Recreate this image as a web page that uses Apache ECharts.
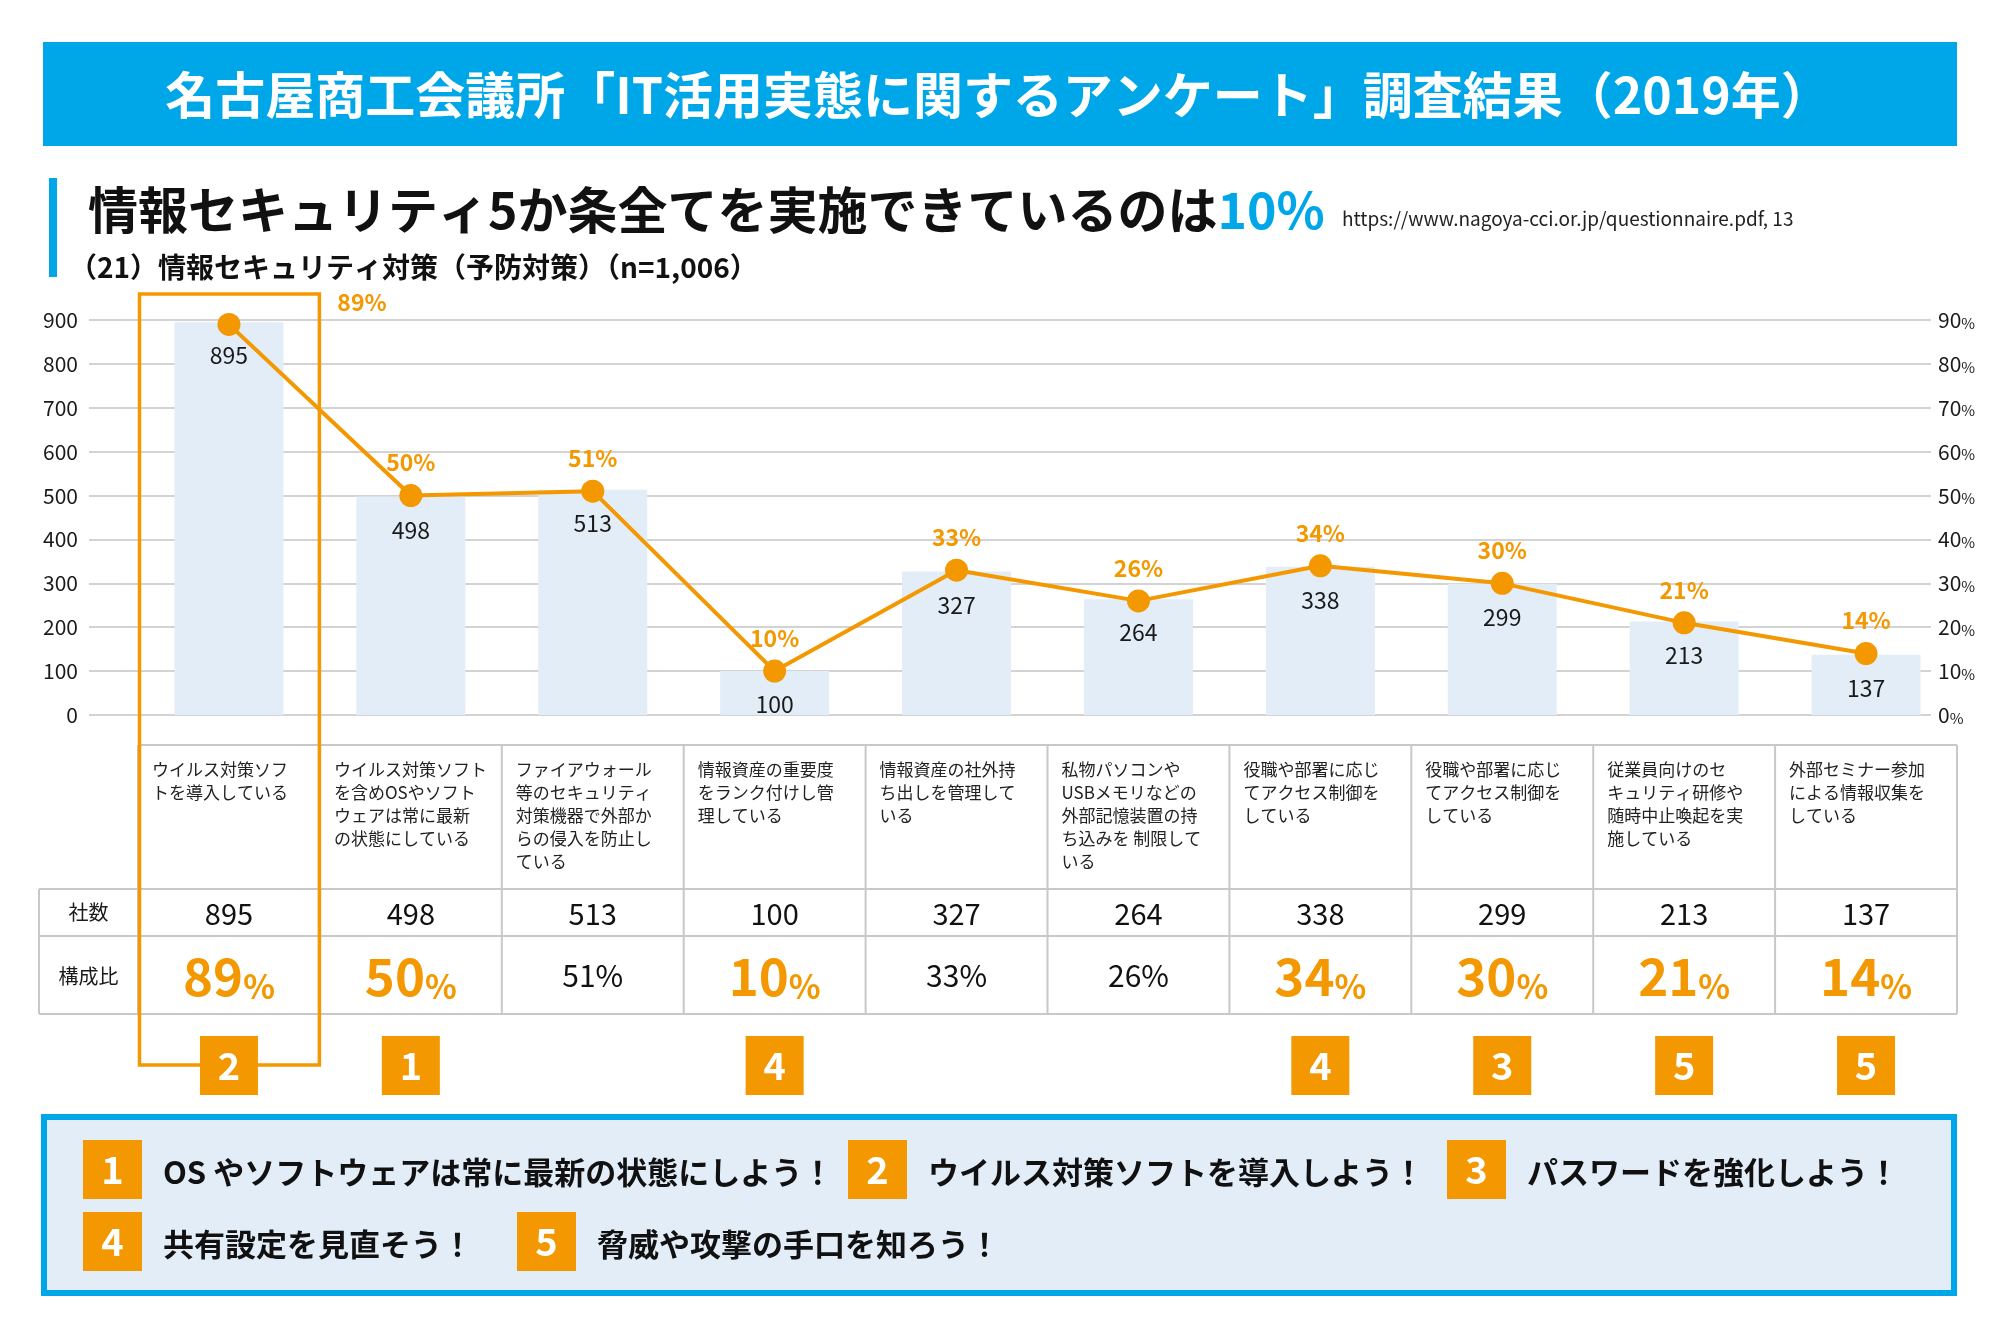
<!DOCTYPE html>
<html>
<head>
<meta charset="utf-8">
<script src="https://cdn.jsdelivr.net/npm/echarts@6/dist/echarts.min.js"></script>
<style>
html,body{margin:0;padding:0;background:#fff;}
#c{width:2000px;height:1330px;}
</style>
</head>
<body>
<div id="c"></div>
<script>
// ---------------- data ----------------
const headerTitle = '名古屋商工会議所「IT活用実態に関するアンケート」調査結果（2019年）';
const subtitleMain = '情報セキュリティ5か条全てを実施できているのは';
const subtitleHighlight = '10%';
const sourceText = 'https://www.nagoya-cci.or.jp/questionnaire.pdf, 13';
const questionText = '（21）情報セキュリティ対策（予防対策）（n=1,006）';

const categories = [
  'ウイルス対策ソフ\nトを導入している',
  'ウイルス対策ソフト\nを含めOSやソフト\nウェアは常に最新\nの状態にしている',
  'ファイアウォール\n等のセキュリティ\n対策機器で外部か\nらの侵入を防止し\nている',
  '情報資産の重要度\nをランク付けし管\n理している',
  '情報資産の社外持\nち出しを管理して\nいる',
  '私物パソコンや\nUSBメモリなどの\n外部記憶装置の持\nち込みを 制限して\nいる',
  '役職や部署に応じ\nてアクセス制御を\nしている',
  '役職や部署に応じ\nてアクセス制御を\nしている',
  '従業員向けのセ\nキュリティ研修や\n随時中止喚起を実\n施している',
  '外部セミナー参加\nによる情報収集を\nしている'
];
const counts = [895, 498, 513, 100, 327, 264, 338, 299, 213, 137];
const ratios = [89, 50, 51, 10, 33, 26, 34, 30, 21, 14];
const highlighted = [true, true, false, true, false, false, true, true, true, true];
const tipNumbers = [2, 1, null, 4, null, null, 4, 3, 5, 5];
const rowNames = ['社数', '構成比'];
const tipTexts = [
  'OS やソフトウェアは常に最新の状態にしよう！',
  'ウイルス対策ソフトを導入しよう！',
  'パスワードを強化しよう！',
  '共有設定を見直そう！',
  '脅威や攻撃の手口を知ろう！'
];

// ---------------- style ----------------
const FF = '"Noto Sans CJK JP", "Noto Sans", sans-serif';
const ORANGE = '#F39800';
const BLUE = '#00A7E8';
const BARC = '#E2EDF8';
const GRIDC = '#c4c4c4';
const TABLEC = '#c8c8c8';
const INK = '#1a1a1a';

const chart = echarts.init(document.getElementById('c'), null, {renderer: 'canvas'});

const lineData = ratios.map((v, i) => i === 0
  ? {value: v, label: {offset: [133, 11]}}
  : v);

chart.setOption({
  backgroundColor: '#ffffff',
  animation: false,
  textStyle: {fontFamily: FF},
  grid: [
    {left: 138, right: 43, top: 320, bottom: 615},
    {left: 89, right: 69, top: 320, bottom: 615}
  ],
  xAxis: [
    {type: 'category', gridIndex: 0, data: categories,
     axisLine: {show: false}, axisTick: {show: false}, axisLabel: {show: false}, splitLine: {show: false}},
    {type: 'value', gridIndex: 1, show: false, min: 0, max: 1}
  ],
  yAxis: [
    {type: 'value', gridIndex: 0, min: 0, max: 900, interval: 100, show: false},
    {type: 'value', gridIndex: 0, min: 0, max: 90, interval: 10, show: false},
    {type: 'value', gridIndex: 1, min: 0, max: 900, interval: 100, position: 'left',
     axisLine: {show: false}, axisTick: {show: false},
     splitLine: {show: true, lineStyle: {color: GRIDC, width: 1.6}},
     axisLabel: {margin: 11, fontSize: 21, color: INK, fontFamily: FF}},
    {type: 'value', gridIndex: 1, min: 0, max: 90, interval: 10, position: 'right',
     axisLine: {show: false}, axisTick: {show: false}, splitLine: {show: false},
     axisLabel: {margin: 7, formatter: v => '{n|' + v + '}{p|%}',
       rich: {n: {fontSize: 21, color: INK, fontFamily: FF, verticalAlign: 'bottom'},
              p: {fontSize: 15, color: INK, fontFamily: FF, verticalAlign: 'bottom'}}}}
  ],
  series: [
    {type: 'bar', xAxisIndex: 0, yAxisIndex: 0, data: counts, barWidth: 109,
     itemStyle: {color: BARC},
     label: {show: true, position: 'insideTop', distance: 22, color: INK, fontSize: 23, fontFamily: FF}},
    {type: 'line', xAxisIndex: 0, yAxisIndex: 1, data: lineData,
     symbol: 'circle', symbolSize: 23,
     lineStyle: {color: ORANGE, width: 4},
     itemStyle: {color: ORANGE},
     label: {show: true, position: 'top', distance: 10, formatter: '{c}%',
       color: ORANGE, fontSize: 23, fontWeight: 'bold', fontFamily: FF},
     z: 5}
  ]
});

// ---------------- graphics: header, table, legend ----------------
const cx = i => chart.convertToPixel({xAxisIndex: 0}, i);
const bw = cx(1) - cx(0);
const colLeft = i => cx(i) - bw / 2;
const tableRight = cx(categories.length - 1) + bw / 2;

const g = [];
const ln = (x1, y1, x2, y2, color, w) => ({type: 'line', silent: true, z: 10,
  shape: {x1, y1, x2, y2}, style: {stroke: color, lineWidth: w}});
const tx = (x, y, text, st, z) => ({type: 'text', silent: true, z: z || 20, x, y,
  style: Object.assign({text, fontFamily: FF, align: 'center', verticalAlign: 'middle', fill: INK}, st)});

// header band
g.push({type: 'rect', silent: true, z: 1, shape: {x: 43, y: 42, width: 1914, height: 104}, style: {fill: BLUE}});
g.push(tx(998, 95, headerTitle, {fill: '#fff', fontSize: 50, fontWeight: 'bold'}));

// subtitle block
g.push({type: 'rect', silent: true, z: 1, shape: {x: 49, y: 178, width: 8, height: 99}, style: {fill: BLUE}});
g.push(tx(88, 210, '{a|' + subtitleMain + '}{b|' + subtitleHighlight + '}', {
  align: 'left',
  rich: {
    a: {fontSize: 50, fontWeight: 'bold', fill: '#111', color: '#111', fontFamily: FF},
    b: {fontSize: 50, fontWeight: 'bold', fill: BLUE, color: BLUE, fontFamily: FF}
  }
}));
g.push(tx(1342, 219, sourceText, {align: 'left', fontSize: 19, fill: '#222'}));
g.push(tx(69, 267, questionText, {align: 'left', fontSize: 28, fontWeight: 'bold', fill: '#111'}));

// table geometry
const yTop = 745, yR1 = 889, yR2 = 936, yBot = 1014, tLeft = 39;
g.push(ln(colLeft(0), yTop, tableRight, yTop, TABLEC, 2));
[yR1, yR2, yBot].forEach(y => g.push(ln(tLeft, y, tableRight, y, TABLEC, 2)));
g.push(ln(tLeft, yR1, tLeft, yBot, TABLEC, 2));
for (let i = 0; i <= categories.length; i++) {
  const x = i < categories.length ? colLeft(i) : tableRight;
  g.push(ln(x, yTop, x, yBot, TABLEC, 2));
}
// row headers
const firstColCenter = (tLeft + colLeft(0)) / 2;
g.push(tx(firstColCenter, (yR1 + yR2) / 2, rowNames[0], {fontSize: 20}));
g.push(tx(firstColCenter, (yR2 + yBot) / 2 + 1, rowNames[1], {fontSize: 20}));

categories.forEach((name, i) => {
  g.push(tx(colLeft(i) + 14, 758, name, {align: 'left', verticalAlign: 'top', fontSize: 17, lineHeight: 23, fill: '#222'}));
  g.push(tx(cx(i), (yR1 + yR2) / 2 + 1, String(counts[i]), {fontSize: 29, fill: '#111'}));
  if (highlighted[i]) {
    g.push(tx(cx(i), (yR2 + yBot) / 2 + 2, '{a|' + ratios[i] + '}{b|%}', {
      rich: {
        a: {fontSize: 51, fontWeight: 'bold', fill: ORANGE, color: ORANGE, fontFamily: FF, verticalAlign: 'bottom'},
        b: {fontSize: 33, fontWeight: 'bold', fill: ORANGE, color: ORANGE, fontFamily: FF, verticalAlign: 'bottom'}
      }
    }));
  } else {
    g.push(tx(cx(i), (yR2 + yBot) / 2 + 1, ratios[i] + '%', {fontSize: 30, fill: '#111'}));
  }
});

// highlight frame around first column
g.push({type: 'rect', silent: true, z: 30,
  shape: {x: colLeft(0) + 1.5, y: 294, width: bw - 2, height: 771},
  style: {fill: 'none', stroke: ORANGE, lineWidth: 3.5}});

// tip number squares under columns
tipNumbers.forEach((n, i) => {
  if (n == null) return;
  g.push({type: 'rect', silent: true, z: 40, shape: {x: cx(i) - 29, y: 1036, width: 58, height: 59}, style: {fill: ORANGE}});
  g.push(tx(cx(i), 1066, String(n), {fill: '#fff', fontSize: 38, fontWeight: 'bold'}, 41));
});

// legend box
g.push({type: 'rect', silent: true, z: 1, shape: {x: 44, y: 1117, width: 1910, height: 176},
  style: {fill: BARC, stroke: BLUE, lineWidth: 6}});
const tipSlots = [[83, 1140], [848, 1140], [1447, 1140], [83, 1212], [517, 1212]];
tipTexts.forEach((t, k) => {
  const [x, y] = tipSlots[k];
  g.push({type: 'rect', silent: true, z: 40, shape: {x, y, width: 59, height: 59}, style: {fill: ORANGE}});
  g.push(tx(x + 29.5, y + 30, String(k + 1), {fill: '#fff', fontSize: 38, fontWeight: 'bold'}, 41));
  g.push(tx(x + 80, y + 32, t, {align: 'left', fontSize: 31, fontWeight: 'bold', fill: '#111'}, 41));
});

chart.setOption({graphic: {elements: g}});
</script>
</body>
</html>
